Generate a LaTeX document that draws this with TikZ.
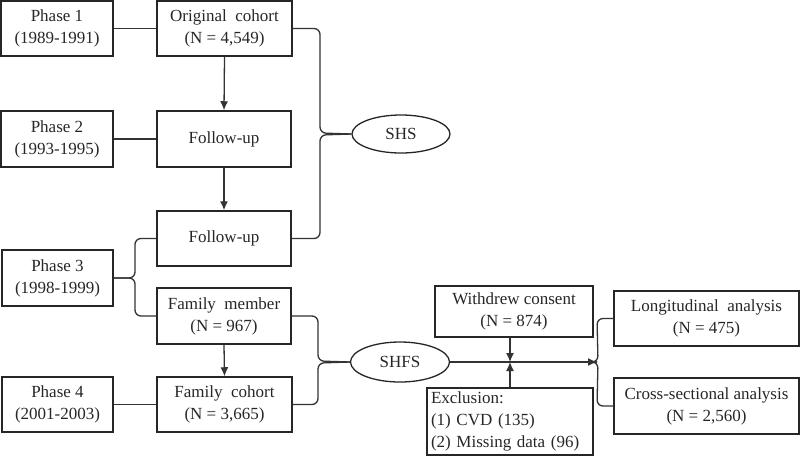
\documentclass[tikz,border=0pt]{standalone}
\usepackage{fontspec}
\setmainfont{Liberation Serif}
\newfontfamily\tnr{Liberation Serif}
\usetikzlibrary{shapes.geometric,arrows.meta,calc}
\begin{document}
\begin{tikzpicture}[x=1pt,y=-1pt,
  font=\tnr\fontsize{17}{22}\selectfont,
  box/.style={draw=black!85,line width=1.5pt,rectangle,inner sep=0pt,align=center,text=black!85},
  oval/.style={draw=black!85,line width=1.3pt,ellipse,inner sep=0pt,text=black!85},
  conn/.style={draw=black!80,line width=1.3pt},
  arr/.style={conn,-{Latex[length=9pt,width=8pt]}},
  brace/.style={conn,rounded corners=6pt}]
\useasboundingbox (0,0) rectangle (800,456);
% left column
\node[box,minimum width=112pt,minimum height=55pt] (p1) at (57,28.5) {Phase 1\\(1989-1991)};
\node[box,minimum width=112pt,minimum height=56pt] (p2) at (57,139) {Phase 2\\(1993-1995)};
\node[box,minimum width=111pt,minimum height=56pt] (p3) at (57.5,278) {Phase 3\\(1998-1999)};
\node[box,minimum width=111pt,minimum height=55pt] (p4) at (57.5,404.5) {Phase 4\\(2001-2003)};
% middle column
\node[box,minimum width=135pt,minimum height=55pt] (oc) at (224.5,28.5) {Original\ \ cohort\\(N = 4,549)};
\node[box,minimum width=134pt,minimum height=56pt] (f1) at (224,139) {Follow-up};
\node[box,minimum width=134pt,minimum height=55pt] (f2) at (224,238.5) {Follow-up};
\node[box,minimum width=134pt,minimum height=56pt] (fm) at (224,316) {Family\ \ member\\(N = 967)};
\node[box,minimum width=135pt,minimum height=55pt] (fc) at (224.5,404.5) {Family\ \ cohort\\(N = 3,665)};
% ellipses
\node[oval,minimum width=98pt,minimum height=38pt] (shs) at (401,134) {SHS};
\node[oval,minimum width=99pt,minimum height=40pt] (shfs) at (400,362) {SHFS};
% right part
\node[box,minimum width=158pt,minimum height=51pt] (wc) at (514,311.5) {Withdrew consent\\(N = 874)};
\node[box,minimum width=166pt,minimum height=67pt,align=left,text width=158pt] (ex) at (510,421.5) {Exclusion:\\(1) CVD (135)\\(2) Missing data (96)};
\node[box,minimum width=185pt,minimum height=55pt] (la) at (706.5,318.5) {Longitudinal\ \ analysis\\(N = 475)};
\node[box,minimum width=185pt,minimum height=56pt] (cs) at (706.5,406) {Cross-sectional analysis\\(N = 2,560)};
% helper coordinates
\coordinate (shsx) at (320,134);
\coordinate (p3x) at (135,278);
\coordinate (shfsx) at (318,362);
\coordinate (br) at (597,362);
\coordinate (j) at (510,362);
% phase links
\draw[conn] (p1.east |- oc.west) -- (oc.west);
\draw[conn] (p2.east) -- (f1.west);
\draw[conn] (p4.east) -- (fc.west);
% vertical arrows
\draw[arr] (oc.south) -- (f1.north);
\draw[arr] (f1.south) -- (f2.north);
\draw[arr] (fm.south) -- (fc.north);
% SHS brace
\draw[brace] (oc.east) -- (oc.east -| shsx) -- ($(shsx)+(0,-1)$) -- (shs.west);
\draw[brace] (f2.east) -- (f2.east -| shsx) -- ($(shsx)+(0,1)$) -- (shs.west);
% Phase 3 brace
\draw[brace] (p3.east) -- (p3x) -- (p3x |- f2.west) -- (f2.west);
\draw[brace] (p3.east) -- (p3x) -- (p3x |- fm.west) -- (fm.west);
% SHFS brace
\draw[brace] (fm.east) -- (fm.east -| shfsx) -- ($(shfsx)+(0,-1)$) -- (shfs.west);
\draw[brace] (fc.east) -- (fc.east -| shfsx) -- ($(shfsx)+(0,1)$) -- (shfs.west);
% main flow
\draw[arr] (shfs.east) -- (br);
\draw[arr] (j |- wc.south) -- (j);
\draw[arr] (ex.north) -- (j);
% analysis brace
\draw[brace] (br) -- ($(br)+(1,0)$) -- (br |- la.west) -- (la.west);
\draw[brace] (br) -- ($(br)+(1,0)$) -- (br |- cs.west) -- (cs.west);
\end{tikzpicture}
\end{document}
